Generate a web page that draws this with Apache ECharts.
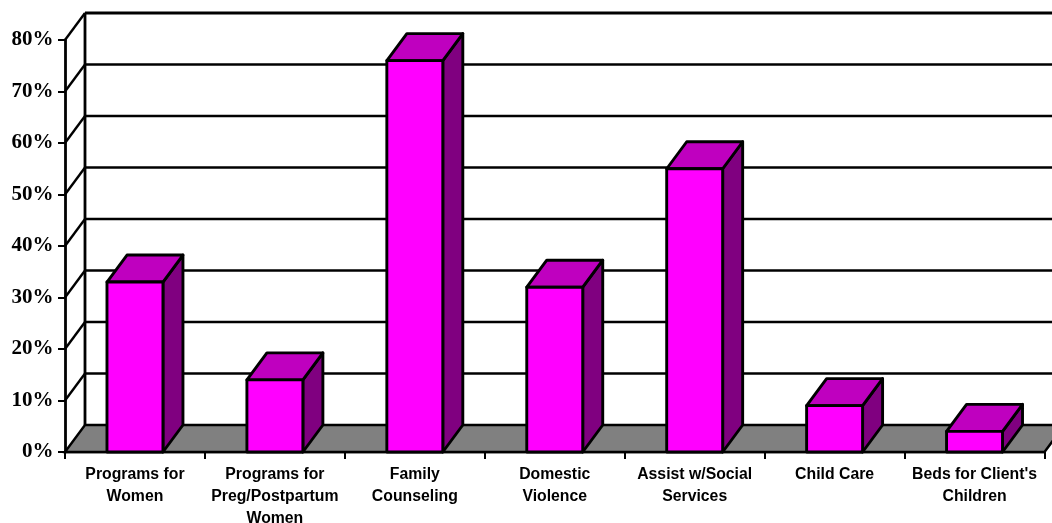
<!DOCTYPE html>
<html>
<head>
<meta charset="utf-8">
<style>html,body{margin:0;padding:0;background:#fff}#c{width:1052px;height:523px}</style>
<script src="https://cdn.jsdelivr.net/npm/echarts@6/dist/echarts.min.js"></script>
</head>
<body>
<div id="c"></div>
<script>
var categories = ["Programs for\nWomen", "Programs for\nPreg/Postpartum\nWomen", "Family\nCounseling", "Domestic\nViolence", "Assist w/Social\nServices", "Child Care", "Beds for Client's\nChildren"];
var values = [33, 14, 76, 32, 55, 9, 4];
var yTicks = [0, 10, 20, 30, 40, 50, 60, 70, 80];

var DX = 20, DY = -27;
var chart = echarts.init(document.getElementById('c'), null, {renderer: 'canvas'});

function line(x1, y1, x2, y2, w) {
  return {type: 'line', shape: {x1: x1, y1: y1, x2: x2, y2: y2}, style: {stroke: '#000', lineWidth: w || 2.4}, silent: true};
}
function poly(points, fill) {
  return {type: 'polygon', shape: {points: points}, style: {fill: fill, stroke: '#000', lineWidth: 2.9, lineJoin: 'round'}, silent: true};
}

function renderWall(params, api) {
  var v = api.value(0);
  var s = api.coord([0, v]);
  var cs = params.coordSys;
  var left = cs.x, right = cs.x + cs.width;
  var y = s[1];
  var kids = [];
  if (v === 0) {
    kids.push({type: 'polygon', shape: {points: [[left, y], [left + DX, y + DY], [right + DX, y + DY], [right, y]]},
      style: {fill: '#808080', stroke: '#000', lineWidth: 2.4}, silent: true});
    kids.push(line(left + DX, y + DY, left + DX, cs.y + DY, 2.8));
  } else {
    kids.push(line(left, y, left + DX, y + DY));
    kids.push(line(left + DX, y + DY, right + DX, y + DY, v === 80 ? 3 : 2.4));
  }
  return {type: 'group', children: kids};
}

function renderBar(params, api) {
  var idx = api.value(0);
  var top = api.coord([idx, api.value(1)]);
  var base = api.coord([idx, 0]);
  var w = api.size([1, 0])[0] * 0.4;
  var l = top[0] - w / 2, r = top[0] + w / 2, t = top[1], b = base[1];
  return {type: 'group', children: [
    poly([[r, t], [r + DX, t + DY], [r + DX, b + DY], [r, b]], '#800080'),
    poly([[l, t], [l + DX, t + DY], [r + DX, t + DY], [r, t]], '#BF00BF'),
    poly([[l, t], [r, t], [r, b], [l, b]], '#FF00FF')
  ]};
}

chart.setOption({
  animation: false,
  backgroundColor: '#fff',
  grid: {left: 65, right: 7.5, top: 40, bottom: 71, containLabel: false, outerBoundsMode: 'none'},
  xAxis: {
    type: 'category',
    data: categories,
    boundaryGap: true,
    axisLine: {show: true, onZero: false, lineStyle: {color: '#000', width: 2.4}},
    axisTick: {show: true, alignWithLabel: false, length: 7, lineStyle: {color: '#000', width: 2}},
    axisLabel: {interval: 0, hideOverlap: false, color: '#000', fontFamily: '"Liberation Sans", Arial, sans-serif', fontWeight: 'bold', fontSize: 15.8, lineHeight: 22, margin: 11.5, align: 'center', verticalAlign: 'top'},
    splitLine: {show: false}
  },
  yAxis: {
    type: 'value',
    min: 0,
    max: 80,
    interval: 10,
    axisLine: {show: true, lineStyle: {color: '#000', width: 2.8}},
    axisTick: {show: true, length: 7, lineStyle: {color: '#000', width: 2}},
    axisLabel: {color: '#000', fontFamily: '"Liberation Serif", "Times New Roman", serif', fontWeight: 'bold', fontSize: 21, margin: 11.5, formatter: '{value}%'},
    splitLine: {show: false}
  },
  series: [
    {type: 'custom', coordinateSystem: 'cartesian2d', clip: false, z: 1, renderItem: renderWall,
      data: yTicks.map(function (t) { return [t]; }), encode: {y: 0}},
    {type: 'custom', coordinateSystem: 'cartesian2d', clip: false, z: 3, renderItem: renderBar,
      data: values.map(function (v, i) { return [i, v]; }), encode: {x: 0, y: 1}}
  ]
});
</script>
</body>
</html>
